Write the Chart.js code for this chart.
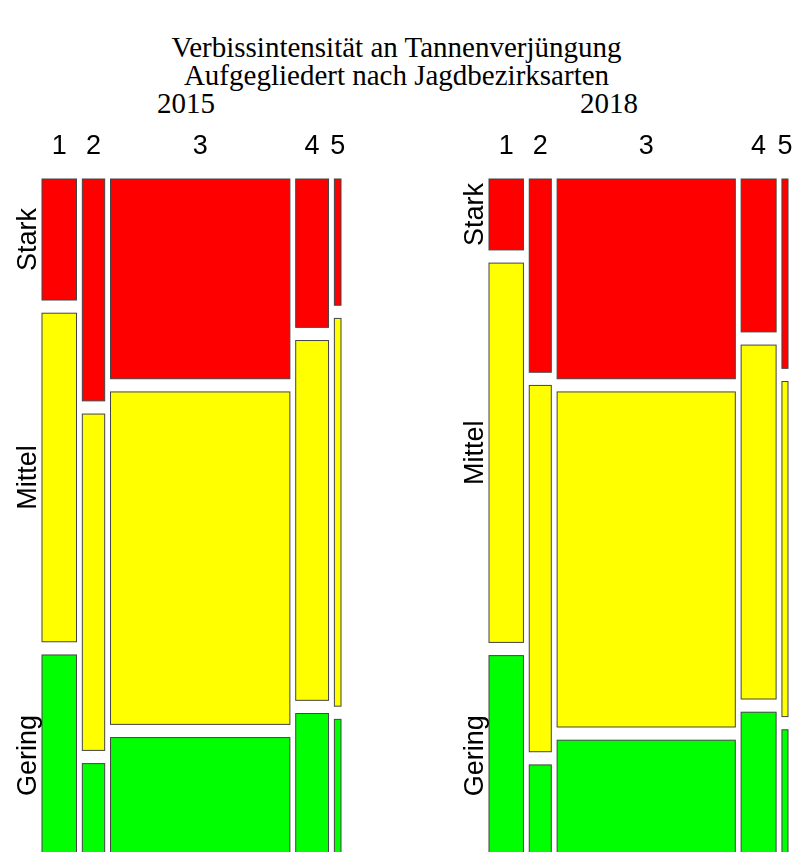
<!DOCTYPE html>
<html>
<head>
<meta charset="utf-8">
<script src="https://cdn.jsdelivr.net/npm/chart.js@4.4.1/dist/chart.umd.min.js"></script>
<style>
html, body { margin: 0; padding: 0; background: #fff; overflow: hidden; width: 793px; height: 852px; }
.wrap { position: relative; width: 793px; height: 852px; }
canvas { position: absolute; top: 0; }
#left { left: 0; }
#right { left: 397px; }
.ttl { position: absolute; left: 0; width: 793px; text-align: center; font-family: "Liberation Serif", serif; font-size: 29px; line-height: 28px; color: #000; }
.year { position: absolute; font-family: "Liberation Serif", serif; font-size: 29px; line-height: 28px; color: #000; transform: translateX(-50%); }
</style>
</head>
<body>
<div class="wrap">
  <div class="ttl" style="top:33px">Verbissintensität an Tannenverjüngung</div>
  <div class="ttl" style="top:61px">Aufgegliedert nach Jagdbezirksarten</div>
  <div class="year" style="top:89px; left:186px">2015</div>
  <div class="year" style="top:89px; left:609px">2018</div>
  <canvas id="left" width="396" height="870"></canvas>
  <canvas id="right" width="396" height="870"></canvas>
</div>
<script>
// Jagdbezirksarten (columns) and Verbissintensität (rows, top to bottom)
const categories = ["1", "2", "3", "4", "5"];
const levels = ["Stark", "Mittel", "Gering"];

// share of each Jagdbezirksart in % (column widths)
const share2015 = [12.5, 8.1, 65.0, 11.9, 2.4];
const share2018 = [12.5, 8.0, 64.7, 12.7, 2.2];

// % Stark / Mittel / Gering within each Jagdbezirksart
const stark2015  = [18.6, 34.1, 30.7, 22.8, 19.4];
const mittel2015 = [50.5, 51.7, 51.1, 55.3, 59.6];
const gering2015 = [30.9, 14.2, 18.2, 21.9, 21.0];

const stark2018  = [10.9, 29.7, 30.7, 23.5, 29.1];
const mittel2018 = [58.3, 56.3, 51.5, 54.4, 51.5];
const gering2018 = [30.8, 14.0, 17.8, 22.1, 19.4];

const colors = ["#ff0000", "#ffff00", "#00ff00"];
const GAP = 0.0195; // spacing between tiles, in plot units

function mosaicCells(share, rows) {
  const cells = [];
  const total = share.reduce((a, b) => a + b, 0);
  const usableX = 1 - GAP * (share.length - 1);
  let x0 = 0;
  share.forEach((s, i) => {
    const w = s / total * usableX;
    const col = rows.map(r => r[i]);
    const colTotal = col.reduce((a, b) => a + b, 0);
    const usableY = 1 - GAP * (col.length - 1);
    let yTop = 1;
    col.forEach((v, j) => {
      const h = v / colTotal * usableY;
      cells.push({ col: i, row: j, x0: x0, x1: x0 + w, y0: yTop - h, y1: yTop });
      yTop -= h + GAP;
    });
    x0 += w + GAP;
  });
  return cells;
}

const mosaicPlugin = {
  id: "mosaic",
  afterDatasetsDraw(chart) {
    const ctx = chart.ctx;
    const xs = chart.scales.x, ys = chart.scales.y;
    const cells = chart.options.plugins.mosaic.cells;
    ctx.save();
    cells.forEach(c => {
      const l = xs.getPixelForValue(c.x0), r = xs.getPixelForValue(c.x1);
      const t = ys.getPixelForValue(c.y1), b = ys.getPixelForValue(c.y0);
      ctx.fillStyle = colors[c.row];
      ctx.fillRect(l, t, r - l, b - t);
      ctx.strokeStyle = "#444";
      ctx.lineWidth = 1;
      ctx.strokeRect(l, t, r - l, b - t);
    });

    // column labels
    ctx.fillStyle = "#000";
    ctx.font = '27px "Liberation Sans", Arial, sans-serif';
    ctx.textAlign = "center";
    ctx.textBaseline = "alphabetic";
    cells.filter(c => c.row === 0).forEach(c => {
      const cx = xs.getPixelForValue((c.x0 + c.x1) / 2);
      ctx.fillText(categories[c.col], cx, chart.chartArea.top - 25);
    });

    // row labels, centred on the first column
    cells.filter(c => c.col === 0).forEach(c => {
      const cy = ys.getPixelForValue((c.y0 + c.y1) / 2);
      ctx.save();
      ctx.translate(chart.chartArea.left - 6, cy);
      ctx.rotate(-Math.PI / 2);
      ctx.fillText(levels[c.row], 0, 0);
      ctx.restore();
    });
    ctx.restore();
  }
};

function makeMosaic(id, share, rows, padLeft, padRight) {
  return new Chart(document.getElementById(id), {
    type: "scatter",
    data: { datasets: [{ data: [] }] },
    options: {
      responsive: false,
      animation: false,
      layout: { padding: { left: padLeft, right: padRight, top: 179, bottom: 14 } },
      scales: {
        x: { type: "linear", min: 0, max: 1, display: false },
        y: { type: "linear", min: 0, max: 1, display: false }
      },
      plugins: {
        legend: { display: false },
        tooltip: { enabled: false },
        mosaic: { cells: mosaicCells(share, rows) }
      }
    },
    plugins: [mosaicPlugin]
  });
}

makeMosaic("left", share2015, [stark2015, mittel2015, gering2015], 42, 55);
makeMosaic("right", share2018, [stark2018, mittel2018, gering2018], 92, 5);
</script>
</body>
</html>
